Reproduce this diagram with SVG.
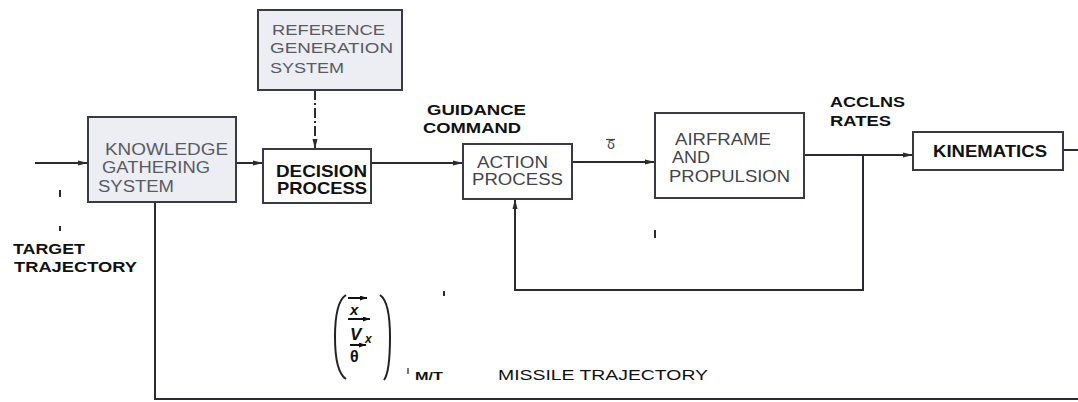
<svg xmlns="http://www.w3.org/2000/svg" width="1078" height="402" viewBox="0 0 1078 402">
<style>
.box{stroke:#3a3a44;stroke-width:2;}
.shaded{fill:#eceef4;}
.plain{fill:#fff;}
.gt{font-family:"Liberation Sans",Arial,sans-serif;fill:#5a5a62;}
.bt{font-family:"Liberation Sans",Arial,sans-serif;font-weight:bold;fill:#111;}
.nt{font-family:"Liberation Sans",Arial,sans-serif;fill:#44444c;}
.ln{stroke:#2a2a30;stroke-width:2;fill:none;}
.vt{font-family:"Liberation Sans",Arial,sans-serif;font-weight:bold;fill:#111;}
</style>
<defs>
<marker id="ah" markerWidth="10" markerHeight="6" refX="10" refY="3" orient="auto" markerUnits="userSpaceOnUse">
<path d="M0,0.5 L10,3 L0,5.5 z" fill="#2a2a30"/>
</marker>
<marker id="sa" markerWidth="7" markerHeight="5" refX="7" refY="2.5" orient="auto" markerUnits="userSpaceOnUse">
<path d="M0,0 L7,2.5 L0,5 z" fill="#111"/>
</marker>
</defs>
<rect width="1078" height="402" fill="#fff"/>

<g id="connectors">
<line class="ln" x1="35" y1="163" x2="88" y2="163" marker-end="url(#ah)"/>
<line class="ln" x1="236" y1="163" x2="263" y2="163" marker-end="url(#ah)"/>
<line class="ln" x1="315" y1="90" x2="315" y2="149" stroke-dasharray="10,3,2,3" marker-end="url(#ah)"/>
<line class="ln" x1="371" y1="163" x2="463" y2="163" stroke-width="3" marker-end="url(#ah)"/>
<line class="ln" x1="572" y1="162" x2="655" y2="162" marker-end="url(#ah)"/>
<line class="ln" x1="804" y1="155" x2="913" y2="155" marker-end="url(#ah)"/>
<line class="ln" x1="913" y1="149" x2="913" y2="161"/>
<line class="ln" x1="1063" y1="150" x2="1078" y2="150"/>
<polyline class="ln" points="863,155 863,290 515,290 515,199" marker-end="url(#ah)"/>
<polyline class="ln" points="155,202 155,399 1078,399" stroke="#55555c"/>
<line class="ln" x1="60" y1="190" x2="60" y2="197" stroke-width="1.5"/>
<line class="ln" x1="60" y1="226" x2="60" y2="231" stroke-width="1.5"/>
<line class="ln" x1="655" y1="230" x2="655" y2="238" stroke-width="1"/>
<line class="ln" x1="444" y1="291" x2="444" y2="296" stroke-width="1.5"/>
</g>

<g id="knowledge">
<rect class="box shaded" x="88" y="117" width="148" height="85"/>
<text class="gt" x="105" y="155" style="font-size:16px" textLength="123" lengthAdjust="spacingAndGlyphs">KNOWLEDGE</text>
<text class="gt" x="102" y="173" style="font-size:16px" textLength="108" lengthAdjust="spacingAndGlyphs">GATHERING</text>
<text class="gt" x="98" y="192" style="font-size:16px" textLength="76" lengthAdjust="spacingAndGlyphs">SYSTEM</text>
</g>

<g id="reference">
<rect class="box shaded" x="258" y="10" width="144" height="80"/>
<text class="gt" x="272" y="35" style="font-size:14.5px" textLength="113" lengthAdjust="spacingAndGlyphs">REFERENCE</text>
<text class="gt" x="270" y="53" style="font-size:14.5px" textLength="123" lengthAdjust="spacingAndGlyphs">GENERATION</text>
<text class="gt" x="270" y="73" style="font-size:14.5px" textLength="74" lengthAdjust="spacingAndGlyphs">SYSTEM</text>
</g>

<g id="decision">
<rect class="box plain" x="263" y="149" width="108" height="54"/>
<text class="bt" x="276" y="177" style="font-size:17px" textLength="91" lengthAdjust="spacingAndGlyphs">DECISION</text>
<text class="bt" x="277" y="194" style="font-size:17px" textLength="90" lengthAdjust="spacingAndGlyphs">PROCESS</text>
</g>

<g id="action">
<rect class="box plain" x="463" y="144" width="109" height="55"/>
<text class="nt" x="477" y="168" style="font-size:16px" textLength="71" lengthAdjust="spacingAndGlyphs">ACTION</text>
<text class="nt" x="472" y="185" style="font-size:16px" textLength="91" lengthAdjust="spacingAndGlyphs">PROCESS</text>
</g>

<g id="airframe">
<rect class="box plain" x="655" y="113" width="149" height="85"/>
<text class="nt" x="675" y="145" style="font-size:16.5px" textLength="96" lengthAdjust="spacingAndGlyphs">AIRFRAME</text>
<text class="nt" x="672" y="163" style="font-size:16.5px" textLength="38" lengthAdjust="spacingAndGlyphs">AND</text>
<text class="nt" x="669" y="182" style="font-size:16.5px" textLength="121" lengthAdjust="spacingAndGlyphs">PROPULSION</text>
</g>

<g id="kinematics">
<rect class="box plain" x="913" y="132" width="150" height="38"/>
<text class="bt" x="933" y="157" style="font-size:17px" textLength="114" lengthAdjust="spacingAndGlyphs">KINEMATICS</text>
</g>

<g id="labels">
<text class="bt" x="427" y="115" style="font-size:14.5px" textLength="99" lengthAdjust="spacingAndGlyphs">GUIDANCE</text>
<text class="bt" x="423" y="133" style="font-size:14.5px" textLength="98" lengthAdjust="spacingAndGlyphs">COMMAND</text>
<text x="607" y="149" font-family="DejaVu Sans,sans-serif" font-size="13" fill="#444">δ</text>
<line x1="606" y1="139.5" x2="615" y2="139.5" stroke="#444" stroke-width="1.2"/>
<text class="bt" x="830" y="107" style="font-size:14px" textLength="75" lengthAdjust="spacingAndGlyphs">ACCLNS</text>
<text class="bt" x="830" y="126" style="font-size:14px" textLength="61" lengthAdjust="spacingAndGlyphs">RATES</text>
<text class="bt" x="13" y="254" style="font-size:15.5px" textLength="72" lengthAdjust="spacingAndGlyphs">TARGET</text>
<text class="bt" x="14" y="272" style="font-size:15.5px" textLength="123" lengthAdjust="spacingAndGlyphs">TRAJECTORY</text>
<text class="bt" x="415" y="380" style="font-size:10.5px" textLength="28" lengthAdjust="spacingAndGlyphs">M/T</text>
<text x="498" y="380" font-family="Liberation Sans,Arial,sans-serif" font-size="15" fill="#111" textLength="210" lengthAdjust="spacingAndGlyphs">MISSILE TRAJECTORY</text>
</g>

<g id="vector">
<path d="M346,295 Q335,302 335,337 Q335,372 346,379" fill="none" stroke="#222" stroke-width="2"/>
<path d="M380,295 Q390,302 390,337 Q390,372 384,380" fill="none" stroke="#222" stroke-width="2"/>
<text class="vt" x="350" y="315" font-size="15" font-style="italic">x</text>
<line x1="348" y1="298" x2="367" y2="298" stroke="#111" stroke-width="2" marker-end="url(#sa)"/>
<text class="vt" x="350" y="340" font-size="17" font-style="italic">V</text>
<text class="vt" x="365" y="343" font-size="12" font-style="italic">x</text>
<line x1="348" y1="319" x2="370" y2="319" stroke="#111" stroke-width="2" marker-end="url(#sa)"/>
<text class="vt" x="350" y="362" font-size="16">θ</text>
<line x1="350" y1="345" x2="366" y2="345" stroke="#111" stroke-width="2" marker-end="url(#sa)"/>
<line x1="408" y1="368" x2="408" y2="374" stroke="#222" stroke-width="1.2"/>
</g>
</svg>
